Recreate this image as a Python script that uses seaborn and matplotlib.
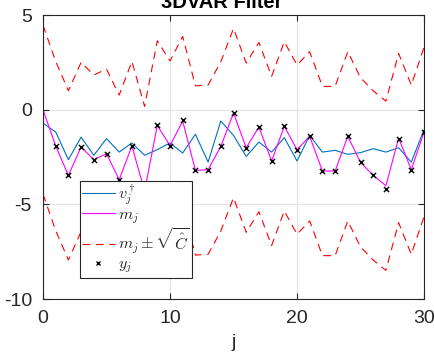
import numpy as np
import pandas as pd
import matplotlib
matplotlib.use("Agg")
import matplotlib.pyplot as plt
import seaborn as sns
from matplotlib.lines import Line2D

# time index
j = list(range(31))

# true signal v_j
v_true = [-0.71, -1.18, -2.64, -1.45, -2.41, -1.53, -2.24, -1.76, -2.41, -2.11,
          -1.76, -2.29, -1.30, -2.77, -0.60, -1.36, -2.47, -1.71, -2.24, -1.48,
          -2.71, -1.36, -2.24, -2.15, -2.36, -2.27, -2.06, -2.24, -2.01, -2.77,
          -1.06]

# filter mean m_j
m_est = [0.00, -1.92, -3.47, -1.97, -2.64, -2.33, -3.70, -1.92, -4.30, -0.83,
         -1.90, -0.60, -3.21, -3.17, -1.94, -0.18, -2.01, -0.92, -2.71, -0.88,
         -2.11, -1.41, -3.24, -3.24, -1.41, -2.78, -3.47, -4.02, -1.50, -3.17,
         -1.18]

# observations y_j (j = 1..30)
j_obs = list(range(1, 31))
y_obs = [-1.94, -3.47, -1.97, -2.64, -2.33, -3.73, -1.92, -4.30, -0.83,
         -1.90, -0.57, -3.21, -3.17, -1.94, -0.18, -2.01, -0.92, -2.71, -0.88,
         -2.11, -1.41, -3.24, -3.24, -1.41, -2.78, -3.47, -4.20, -1.55, -3.17,
         -1.18]

# analysis standard deviation sqrt(C_hat)
sqrt_c = [4.46] + [4.47] * 30

sns.set_theme(style="whitegrid")
plt.rcParams["font.family"] = ["Liberation Sans", "DejaVu Sans"]
plt.rcParams["mathtext.fontset"] = "cm"

df = pd.DataFrame({"j": j, "v": v_true, "m": m_est, "s": sqrt_c})
df["upper"] = df["m"] + df["s"]
df["lower"] = df["m"] - df["s"]
obs = pd.DataFrame({"j": j_obs, "y": y_obs})

fig = plt.figure(figsize=(4.34, 3.54), dpi=100)
ax = fig.add_axes([43 / 434, 1 - 299 / 354, 381 / 434, 284 / 354])

blue = "#0072BD"
mag = "#FF00FF"
red = "#FF0000"
lw = 0.8
dash = (0, (7, 5))

sns.lineplot(data=df, x="j", y="v", ax=ax, color=blue, lw=lw)
sns.lineplot(data=df, x="j", y="m", ax=ax, color=mag, lw=lw)
sns.lineplot(data=df, x="j", y="upper", ax=ax, color=red, lw=lw)
sns.lineplot(data=df, x="j", y="lower", ax=ax, color=red, lw=lw)
for line in ax.lines[2:4]:
    line.set_linestyle(dash)
sns.scatterplot(data=obs, x="j", y="y", ax=ax, marker="x", color="black",
                s=14, linewidth=1.0, zorder=5)

ax.set_xlim(0, 30)
ax.set_ylim(-10, 5)
ax.set_xticks([0, 10, 20, 30])
ax.set_yticks([5, 0, -5, -10])
ax.set_yticklabels(["5", "0", "-5", "-10"])
ax.set_xlabel("j", fontsize=14, color="#262626", labelpad=5)
ax.set_ylabel("")
fig.text(222 / 434, 1 - 7.5 / 354, "3DVAR Filter", fontsize=14.5,
         fontweight="bold", ha="center", va="baseline", color="black")

ax.grid(True, color="#e3e3e3", lw=0.8)
for sp in ax.spines.values():
    sp.set_visible(True)
    sp.set_color("#262626")
    sp.set_linewidth(0.8)
ax.tick_params(axis="both", direction="in", length=4, width=0.8, color="#262626",
               labelsize=14, labelcolor="#262626", top=True, right=True,
               bottom=True, left=True)
ax.tick_params(axis="x", pad=8)
ax.tick_params(axis="y", pad=8)

handles = [
    Line2D([], [], color=blue, lw=lw),
    Line2D([], [], color=mag, lw=lw),
    Line2D([], [], color=red, lw=lw, linestyle=dash),
    Line2D([], [], color="black", lw=0, marker="x", markersize=3.5, markeredgewidth=1.0),
]
labels = [r"$v_j^\dagger$", r"$m_j$", r"$m_j \pm \sqrt{\hat{C}}$", r"$y_j$"]
leg = ax.legend(handles, labels, loc="upper left", bbox_to_anchor=(0.097, 0.417),
                fontsize=11.6, frameon=True, fancybox=False, framealpha=1,
                edgecolor="#262626", handlelength=2.0, handletextpad=0.2,
                labelspacing=0.0, borderpad=0.15, borderaxespad=0)
leg.get_frame().set_linewidth(0.8)
leg.set_zorder(10)

fig.savefig("out.png", dpi=100)
